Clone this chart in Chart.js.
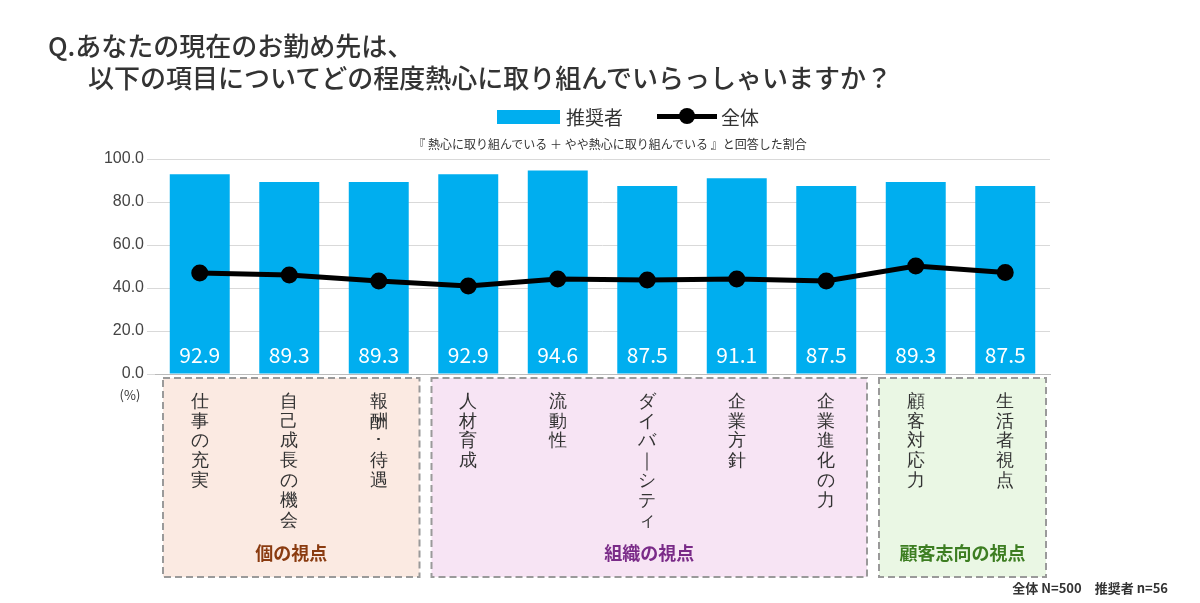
<!DOCTYPE html>
<html><head><meta charset="utf-8">
<script src="https://cdn.jsdelivr.net/npm/chart.js@4/dist/chart.umd.min.js"></script>
<style>
body{margin:0;width:1200px;height:603px;background:#fff;font-family:"Noto Sans CJK JP","Noto Sans",sans-serif;position:relative;overflow:hidden}
#c{position:absolute;left:0;top:0}
.t{position:absolute;color:#333;font-weight:500;font-size:26px;white-space:nowrap}
.lg{position:absolute;top:103px;left:497px;font-size:19px;color:#333;display:flex;align-items:center}
.sub{position:absolute;top:135px;left:0;width:1220px;text-align:center;font-size:12px;color:#333}
.foot{position:absolute;right:32px;top:578px;font-size:13px;font-weight:bold;color:#333}
</style></head><body>
<canvas id="c" width="1200" height="603"></canvas>
<div class="t" style="left:48px;top:26px">Q.あなたの現在のお勤め先は、</div>
<div class="t" style="left:88px;top:58px">以下の項目についてどの程度熱心に取り組んでいらっしゃいますか？</div>
<div class="lg"><span style="display:inline-block;width:63px;height:14px;background:#00aeef"></span><span style="margin-left:6px">推奨者</span>
<span style="display:inline-block;width:60px;height:5px;background:#000;margin-left:34px;position:relative"><span style="position:absolute;left:22px;top:-6px;width:16px;height:16px;border-radius:50%;background:#000"></span></span><span style="margin-left:4px">全体</span></div>
<div class="sub">『 熱心に取り組んでいる ＋ やや熱心に取り組んでいる 』と回答した割合</div>
<div class="foot">全体 N=500　推奨者 n=56</div>
<script>
const categories=["仕事の充実","自己成長の機会","報酬・待遇","人材育成","流動性","ダイバーシティ","企業方針","企業進化の力","顧客対応力","生活者視点"];
const recommenders=[92.9,89.3,89.3,92.9,94.6,87.5,91.1,87.5,89.3,87.5];
const overall=[47.0,46.0,43.3,40.9,44.2,43.7,44.2,43.3,50.2,47.2];
const groups=[{name:"個の視点",from:0,to:2,fill:"#fbeae2",color:"#8a3b10"},{name:"組織の視点",from:3,to:7,fill:"#f7e4f4",color:"#7a2b88"},{name:"顧客志向の視点",from:8,to:9,fill:"#eaf7e4",color:"#3d7e22"}];
const vertLabel=s=>s.replace("・","･").split("").map(c=>c==="ー"?"｜":c);
const plug={id:"p",
beforeDraw(ch){const x=ch.scales.x,c=ch.ctx,sp=x.getPixelForValue(1)-x.getPixelForValue(0);
groups.forEach(g=>{const l=x.getPixelForValue(g.from)-sp/2+8,r=x.getPixelForValue(g.to)+sp/2-4;
c.save();c.fillStyle=g.fill;c.fillRect(l,378,r-l,199);c.setLineDash([7,4]);c.strokeStyle="#9a9a9a";c.lineWidth=2;c.strokeRect(l,378,r-l,199);
c.fillStyle=g.color;c.font="bold 18px 'Noto Sans CJK JP'";c.textAlign="center";c.textBaseline="middle";c.fillText(g.name,(l+r)/2,553);c.restore();});},
afterDatasetsDraw(ch){const c=ch.ctx,m=ch.getDatasetMeta(0);c.save();c.fillStyle="#fff";c.font="21px 'Noto Sans CJK JP'";c.textAlign="center";c.textBaseline="middle";
m.data.forEach((b,i)=>c.fillText(recommenders[i].toFixed(1),b.x,355));
c.fillStyle="#333";c.font="13px 'Noto Sans CJK JP'";c.fillText("(%)",130,395);c.restore();}};
new Chart(document.getElementById("c"),{data:{labels:categories.map(vertLabel),datasets:[
{type:"line",data:overall,borderColor:"#000",backgroundColor:"#000",borderWidth:5,pointRadius:6,tension:0,order:0},
{type:"bar",data:recommenders,backgroundColor:"#00aeef",categoryPercentage:1,barPercentage:0.67,order:1}]},
options:{responsive:false,animation:false,layout:{padding:{left:90,right:150,top:159,bottom:0}},
plugins:{legend:{display:false},tooltip:{enabled:false}},
scales:{y:{min:0,max:100,ticks:{stepSize:20,callback:v=>v.toFixed(1),color:"#444",font:{size:16}},grid:{color:"#d9d9d9"},border:{display:false},afterFit:s=>{s.width=65}},
x:{grid:{display:false},border:{color:"#bbb"},ticks:{autoSkip:false,maxRotation:0,color:"#333",font:{size:18,lineHeight:1.1},padding:10},afterFit:s=>{s.height=229}}}},
plugins:[plug]});
</script></body></html>
